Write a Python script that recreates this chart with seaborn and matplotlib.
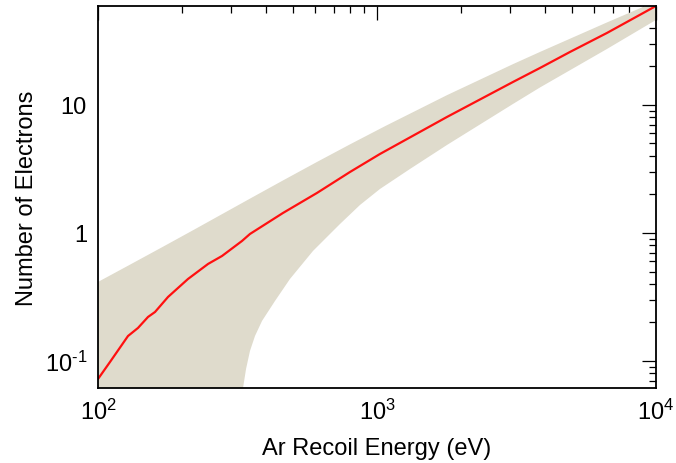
import numpy as np
import pandas as pd
import matplotlib
matplotlib.use("Agg")
import matplotlib.pyplot as plt
import seaborn as sns
from matplotlib.ticker import FixedLocator, FixedFormatter, LogLocator, NullFormatter

# ---- data ----
line_energy = [100, 110.4, 128.1, 139.1, 151.1, 160.1, 178.2, 210.2, 248.0, 278.3,
               328.2, 350.5, 460.3, 609.4, 800.4, 1025, 1782, 3072, 3839, 4918, 6673, 10000]
line_electrons = [0.0723, 0.0982, 0.1567, 0.1811, 0.2207, 0.2414, 0.3162, 0.4372, 0.5728, 0.6610,
                  0.8660, 0.9822, 1.433, 2.054, 2.996, 4.142, 8.06, 15.12, 19.45, 25.95, 36.52, 59.35]

band_hi_energy = [100, 128.1, 169.6, 222.7, 350.5, 460.3, 609.4, 800.4, 1069, 1782,
                  3072, 3839, 6673, 10000]
band_hi = [0.4142, 0.5545, 0.7731, 1.071, 1.854, 2.572, 3.587, 4.923, 6.830, 11.93,
           20.84, 25.95, 44.12, 64.47]

band_lo_energy = [100, 322.7, 331.0, 339.3, 350.5, 365.3, 387.1, 430.9, 487.6, 589.6,
                  737.0, 869.1, 1025, 1313, 1782, 3072, 3839, 6673, 10000]
band_lo = [0.01, 0.045, 0.0615, 0.0866, 0.1197, 0.1567, 0.2054, 0.2943, 0.4372, 0.7235,
           1.176, 1.655, 2.207, 3.162, 4.870, 10.18, 13.70, 27.38, 46.14]

x_ticks = [100, 1000, 10000]
x_ticklabels = [r"$\mathregular{10^{2}}$", r"$\mathregular{10^{3}}$", r"$\mathregular{10^{4}}$"]
y_ticks = [0.1, 1, 10]
y_ticklabels = [r"$\mathregular{10^{\text{-}1}}$", "1", "10"]

sns.set_theme(style="white")
plt.rcParams["font.family"] = ["Liberation Sans", "DejaVu Sans"]
plt.rcParams["mathtext.default"] = "regular"
plt.rcParams["mathtext.fontset"] = "custom"
plt.rcParams["mathtext.rm"] = "Liberation Sans"

fig = plt.figure(figsize=(6.76, 4.64), dpi=100)
ax = fig.add_axes([98 / 676, 1 - 389 / 464, 558 / 676, 382 / 464])
ax.set_xscale("log")
ax.set_yscale("log")

poly_x = np.concatenate([band_hi_energy, band_lo_energy[::-1]])
poly_y = np.concatenate([band_hi, band_lo[::-1]])
ax.fill(poly_x, poly_y, color="#dfdbcc", lw=0, zorder=1)

df = pd.DataFrame({"energy": line_energy, "electrons": line_electrons})
sns.lineplot(data=df, x="energy", y="electrons", ax=ax, color="#ff1010", lw=1.6,
             sort=True, zorder=3, legend=False)

ax.set_xlim(100, 10000)
ax.set_ylim(0.0615, 59.3)

ax.xaxis.set_major_locator(FixedLocator(x_ticks))
ax.xaxis.set_major_formatter(FixedFormatter(x_ticklabels))
ax.xaxis.set_minor_locator(LogLocator(base=10, subs=np.arange(2, 10)))
ax.xaxis.set_minor_formatter(NullFormatter())
ax.yaxis.set_major_locator(FixedLocator(y_ticks))
ax.yaxis.set_major_formatter(FixedFormatter(y_ticklabels))
ax.yaxis.set_minor_locator(LogLocator(base=10, subs=np.arange(2, 10)))
ax.yaxis.set_minor_formatter(NullFormatter())

ax.tick_params(which="both", direction="in", top=True, right=True, color="black",
               labelsize=17, labelcolor="black")
ax.tick_params(which="major", length=10, width=0.9)
ax.tick_params(which="minor", length=5, width=0.9)
ax.tick_params(axis="x", which="major", pad=8)
ax.tick_params(axis="y", which="major", pad=8)

for s in ax.spines.values():
    s.set_color("black")
    s.set_linewidth(1.3)
    s.set_zorder(5)

ax.set_xlabel("Ar Recoil Energy (eV)", fontsize=17, color="black")
ax.set_ylabel("Number of Electrons", fontsize=17, color="black")
ax.xaxis.set_label_coords(0.5, -0.128)
ax.yaxis.set_label_coords(-0.107, 0.5)

fig.savefig("out.png", dpi=100)
